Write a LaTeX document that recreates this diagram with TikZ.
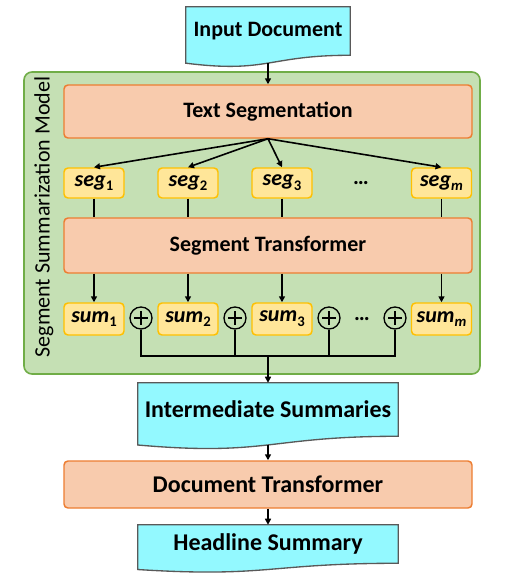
\documentclass[tikz,border=0pt]{standalone}
\usepackage{fontspec}
\setmainfont{Carlito}
\usetikzlibrary{arrows.meta,calc,backgrounds}

\definecolor{docfill}{RGB}{147,249,255}
\definecolor{docline}{RGB}{89,89,89}
\definecolor{blockfill}{RGB}{248,203,173}
\definecolor{blockline}{RGB}{237,125,49}
\definecolor{piecefill}{RGB}{255,230,153}
\definecolor{pieceline}{RGB}{255,192,0}
\definecolor{modelfill}{RGB}{197,224,180}
\definecolor{modelline}{RGB}{112,173,71}

\newcommand{\segidx}[1]{\raisebox{-0.45ex}{\fontsize{11}{12}\selectfont #1}}
\newcommand{\docshape}[2]{%
	\fill[docfill, draw=docline, line width=1pt] (#1.north west) -- (#1.north east) -- (#1.south east)
		.. controls (#1.south) and ($(#1.south)+(0,0.381*#2)$) .. ($(#1.south west)+(0,0.1646*#2)$) -- cycle;
	\coordinate (#1-bot) at ($(#1.south)+(0,0.1635*#2)$);}

\begin{document}
\begin{tikzpicture}[x=0.75pt, y=-0.75pt, >={Triangle[length=4.5pt,width=4.5pt]},
					every node/.style={font=\bfseries\fontsize{16.5}{19}\selectfont},
					bigtext/.style={font=\bfseries\fontsize{18}{21}\selectfont},
					doc/.style={minimum width=195pt, inner sep=0pt},
					block/.style={draw=blockline, fill=blockfill, line width=1.1pt, rounded corners=3pt, minimum width=306pt},
					piece/.style={draw=pieceline, fill=piecefill, line width=1.1pt, rounded corners=3pt,
						minimum width=45pt, inner sep=0pt, font=\bfseries\itshape\fontsize{16.5}{19}\selectfont},
					plus/.style={draw, circle, line width=1pt, minimum size=16.5pt, inner sep=0pt,
						path picture={\draw[line width=1.1pt] ([xshift=-5pt]path picture bounding box.center) -- ([xshift=5pt]path picture bounding box.center)
							([yshift=-5pt]path picture bounding box.center) -- ([yshift=5pt]path picture bounding box.center);}},
					link/.style={line width=1.2pt}]
		\useasboundingbox (0,0) rectangle (507,579);

		\node[doc, minimum width=123pt, minimum height=36pt] (input) at (268,31) {Input Document};
		\node[block, minimum height=39.75pt] (textseg) at (268,111.5) {Text Segmentation};

		\node[piece, minimum height=22.5pt] (seg1) at (94,183) {seg\segidx{\upshape 1}};
		\node[piece, minimum height=22.5pt] (seg2) at (188,183) {seg\segidx{\upshape 2}};
		\node[piece, minimum height=22.5pt] (seg3) at (282,183) {seg\segidx{\upshape 3}};
		\node (segdots) at (361,183) {…};
		\node[piece, minimum height=22.5pt] (segm) at (441.5,183) {seg\segidx{m}};

		\node[block, minimum height=41.25pt] (segtrans) at (268,245.5) {Segment Transformer};

		\node[piece, minimum height=24pt] (sum1) at (94,319) {sum\segidx{\upshape 1}};
		\node[piece, minimum height=24pt] (sum2) at (188,319) {sum\segidx{\upshape 2}};
		\node[piece, minimum height=24pt] (sum3) at (282,319) {sum\segidx{\upshape 3}};
		\node[piece, minimum height=24pt] (summ) at (441.5,319) {sum\segidx{m}};
		\node[plus] (plus1) at (141,318) {};
		\node[plus] (plus2) at (235,318) {};
		\node[plus] (plus3) at (329,318) {};
		\node (sumdots) at (362,319) {…};
		\node[plus] (plus4) at (395,318) {};
		\coordinate (bus) at (268,356);

		\node[rotate=90, font=\fontsize{16.5}{19}\selectfont] (modellabel) at (44,217) {Segment Summarization Model};

		\node[doc, bigtext, minimum height=39.75pt] (inter) at (268,409.5) {Intermediate Summaries};
		\node[block, bigtext, minimum height=35.25pt] (doctrans) at (268,484.5) {Document Transformer};
		\node[doc, bigtext, minimum height=28.5pt] (headline) at (268,544) {Headline Summary};

		\begin{scope}[on background layer]
			\draw[draw=modelline, fill=modelfill, line width=1.2pt, rounded corners=6pt] (24,72) rectangle (480,374);
			\docshape{input}{48}
			\docshape{inter}{53}
			\docshape{headline}{38}
		\end{scope}

		\draw[link,->] (input-bot) -- (textseg);
		\foreach \s in {seg1,seg2,seg3,segm}
			\draw[link,->] (textseg.south) -- (\s.north);
		\foreach \s in {seg1,seg2,seg3,segm}
			\draw[link] (\s) -- (\s |- segtrans.north);
		\foreach \s in {sum1,sum2,sum3,summ}
			\draw[link,->] (\s |- segtrans.south) -- (\s);

		\draw[link] (plus1) |- (bus) -| (plus4);
		\draw[link] (plus2) -- (plus2 |- bus);
		\draw[link] (plus3) -- (plus3 |- bus);
		\draw[link,->] (bus) -- (inter);
		\draw[link,->] (inter-bot) -- (doctrans);
		\draw[link,->] (doctrans) -- (headline);
	\end{tikzpicture}
\end{document}
